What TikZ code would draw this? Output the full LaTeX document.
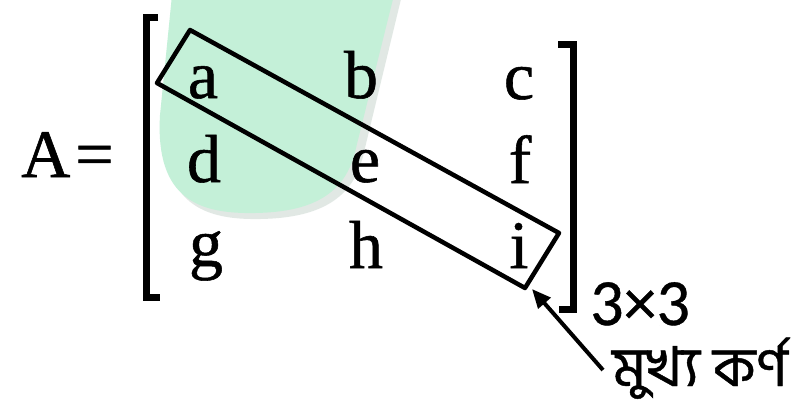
\documentclass[tikz,border=0pt]{standalone}
\usepackage{fontspec}
\setmainfont{Liberation Serif}
\newfontfamily\mserif{Liberation Serif}[FakeBold=0.8]
\newfontfamily\cfont{Carlito}[FakeBold=0.6]
\newfontfamily\bnfont[Script=Bengali,FakeBold=0.8]{Hind Siliguri}
\usetikzlibrary{arrows.meta}
\definecolor{mint}{RGB}{196,240,216}
\definecolor{mintshade}{RGB}{170,190,180}
\begin{document}
\begin{tikzpicture}[x=1pt,y=-1pt,
  entry/.style={anchor=base,inner sep=0pt,font=\mserif\fontsize{68}{68}\selectfont},
  brk/.style={line width=7pt,line cap=butt,line join=miter},
  diagbox/.style={line width=4.5pt,line join=round},
  pointer/.style={line width=4pt,-{Triangle[length=19pt,width=16pt]}},
  blobshade/.style={fill=mintshade,opacity=0.35},
  blob/.style={fill=mint}]
\useasboundingbox (0,0) rectangle (804,408);
\fill[white] (0,0) rectangle (804,408);
% highlight blob
\fill[blobshade] (178,-5) -- (165,120) .. controls (160,205) and (205,220) .. (260,219)
  .. controls (325,218) and (355,195) .. (364,152) -- (402,-5) -- cycle;
\fill[blob] (172,-5) -- (160,115) .. controls (155,200) and (200,214) .. (255,213)
  .. controls (318,212) and (347,190) .. (356,148) -- (394,-5) -- cycle;
% A =
\node[entry,anchor=base west] (lhs) at (21,177) {A\kern5pt=};
% brackets
\draw[brk] (158,17) -- (146,17) -- (146,297) -- (160,297);
\draw[brk] (558,44) -- (573,44) -- (573,309) -- (559,309);
% entries
\node[entry] (a) at (203,98) {a};
\node[entry] (b) at (361,98) {b};
\node[entry] (c) at (519,99) {c};
\node[entry] (d) at (204,182) {d};
\node[entry] (e) at (365,182) {e};
\node[entry] (f) at (520,183) {f};
\node[entry] (g) at (206,266) {g};
\node[entry] (h) at (366,268) {h};
\node[entry] (i) at (519,268) {i};
% diagonal box
\coordinate (p1) at (190,30);
\coordinate (p2) at (157,83);
\coordinate (p3) at (525,288);
\coordinate (p4) at (559,233);
\draw[diagbox] (p1) -- (p2) -- (p3) -- (p4) -- cycle;
% size
\node[anchor=base west,inner sep=0pt,font=\cfont\fontsize{66}{66}\selectfont] (size) at (590,325) {3×3};
% label
\node[anchor=base west,inner sep=0pt,xscale=1.04,font=\bnfont\fontsize{55}{55}\selectfont] (lbl) at (612,386) {\smash{মুখ্য কর্ণ}};
\coordinate (tail) at (603,370);
\coordinate (tip) at (532,289);
\draw[pointer] (tail) -- (tip);
\end{tikzpicture}
\end{document}
